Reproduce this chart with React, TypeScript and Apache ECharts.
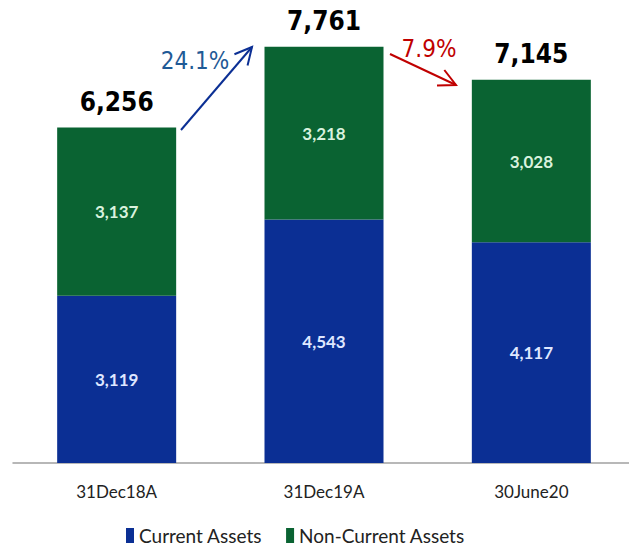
import React, { useEffect, useRef } from "react";
import * as echarts from "echarts";

const categories = ["31Dec18A", "31Dec19A", "30June20"];
const currentAssets = [3119, 4543, 4117];
const nonCurrentAssets = [3137, 3218, 3028];
const totals = [6256, 7761, 7145];
const changeLabels = ["24.1%", "7.9%"];

const BLUE = "#0b2f94";
const GREEN = "#0a6332";

export default function App() {
  const ref = useRef<HTMLDivElement>(null);
  useEffect(() => {
    document.body.style.margin = "0";
    document.body.style.overflow = "hidden";
    document.documentElement.style.overflow = "hidden";
    const chart = echarts.init(ref.current!, null, { renderer: "svg" });
    const fmt = (v: number) => v.toLocaleString("en-US");
    const arrow = (x1: number, y1: number, x2: number, y2: number, color: string) => {
      const dx = x2 - x1, dy = y2 - y1;
      const len = Math.sqrt(dx * dx + dy * dy);
      const ux = dx / len, uy = dy / len;
      const h = 19, a = (27 * Math.PI) / 180;
      const cos = Math.cos(a), sin = Math.sin(a);
      const p1 = [x2 - h * (ux * cos - uy * sin), y2 - h * (uy * cos + ux * sin)];
      const p2 = [x2 - h * (ux * cos + uy * sin), y2 - h * (uy * cos - ux * sin)];
      return [
        { type: "line", shape: { x1, y1, x2, y2 }, style: { stroke: color, lineWidth: 2 } },
        { type: "polyline", shape: { points: [p1, [x2, y2], p2] }, style: { stroke: color, lineWidth: 2, fill: null } },
      ];
    };
    chart.setOption({
      animation: false,
      grid: { left: 13, width: 622, top: 34, bottom: 90, containLabel: false },
      xAxis: {
        type: "category",
        data: categories,
        axisLine: { lineStyle: { color: "#a0a0a0", width: 1.5 } },
        axisTick: { show: false },
        axisLabel: { color: "#222", fontSize: 17, fontFamily: "Lato", margin: 20 },
      },
      yAxis: { type: "value", min: 0, max: 8000, show: false, splitLine: { show: false } },
      legend: {
        data: ["Current Assets", "Non-Current Assets"],
        bottom: 3,
        left: 121,
        itemWidth: 8,
        itemHeight: 15,
        itemGap: 24,
        icon: "rect",
        textStyle: { fontSize: 19, fontFamily: "Lato", color: "#222" },
      },
      series: [
        {
          name: "Current Assets",
          type: "bar",
          stack: "a",
          barWidth: 119,
          barGap: "-100%",
          data: currentAssets,
          itemStyle: { color: BLUE },
          label: {
            show: true, position: "inside", formatter: (p: any) => fmt(p.value),
            color: "#dfe7ff", fontSize: 17, fontWeight: "bold", fontFamily: "Lato",
          },
        },
        {
          name: "Non-Current Assets",
          type: "bar",
          stack: "a",
          barWidth: 119,
          data: nonCurrentAssets,
          itemStyle: { color: GREEN },
          label: {
            show: true, position: "inside", formatter: (p: any) => fmt(p.value),
            color: "#d9f2de", fontSize: 17, fontWeight: "bold", fontFamily: "Lato",
          },
        },
        {
          name: "Total",
          type: "bar",
          barWidth: 119,
          barGap: "-100%",
          z: 0,
          data: totals,
          itemStyle: { color: "rgba(0,0,0,0)" },
          label: {
            show: true, position: "top", distance: 13, formatter: (p: any) => fmt(p.value),
            color: "#000", fontSize: 26, fontWeight: "bold",
            fontFamily: "'DejaVu Sans Condensed', 'DejaVu Sans'",
          },
          tooltip: { show: false },
        },
      ],
      graphic: [
        ...arrow(181, 130, 252, 47, "#0b2f94"),
        ...arrow(390, 54, 456, 85, "#c00000"),
        {
          type: "text", x: 195, y: 61,
          style: { text: changeLabels[0], fill: "#1f5a96", fontSize: 24, fontFamily: "'DejaVu Sans Condensed', 'DejaVu Sans'", align: "center", verticalAlign: "middle" },
        },
        {
          type: "text", x: 429, y: 49,
          style: { text: changeLabels[1], fill: "#c00000", fontSize: 24, fontFamily: "'DejaVu Sans Condensed', 'DejaVu Sans'", align: "center", verticalAlign: "middle" },
        },
      ],
    });
    return () => chart.dispose();
  }, []);
  return <div ref={ref} style={{ width: 640, height: 553 }} />;
}
